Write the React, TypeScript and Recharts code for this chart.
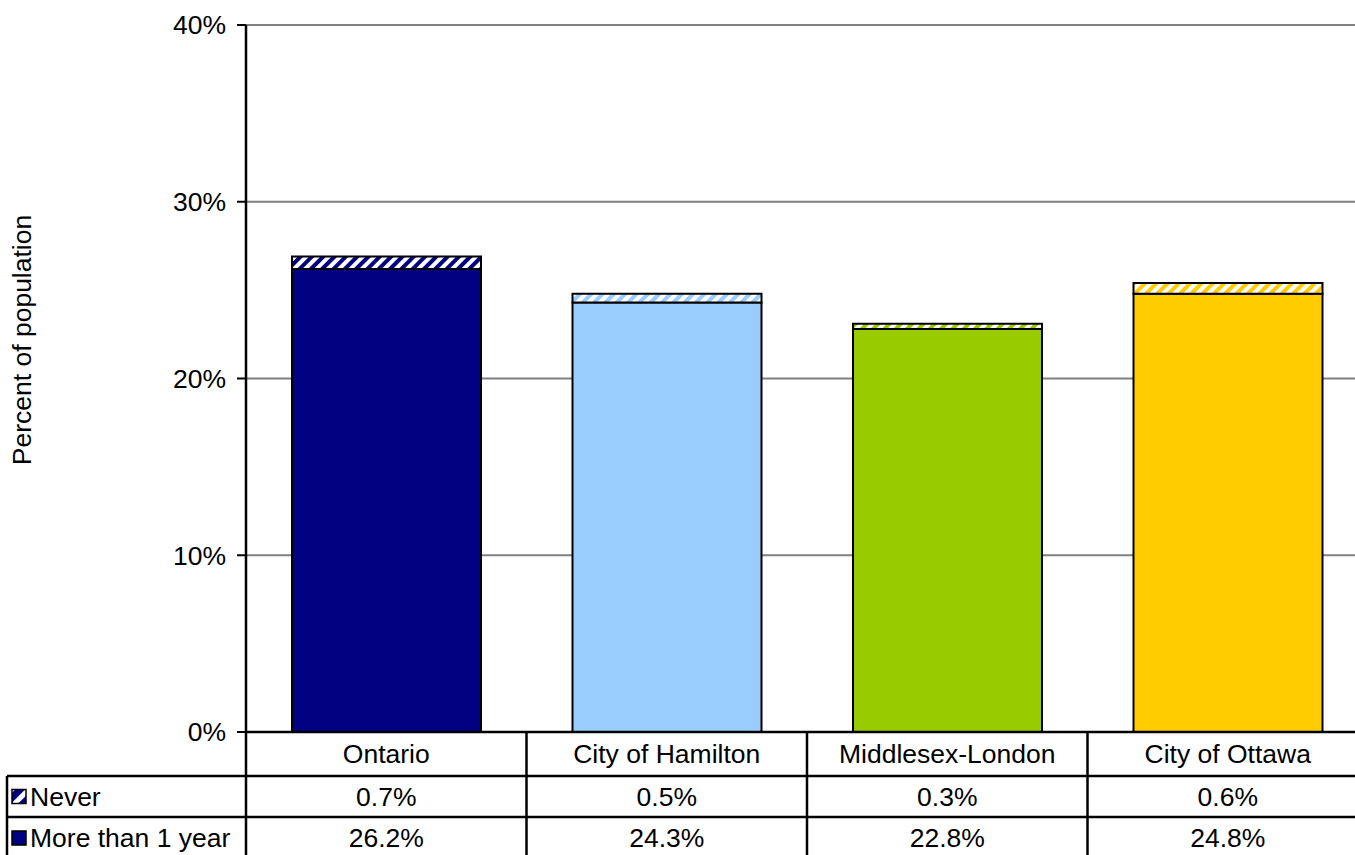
import React from 'react';
import { BarChart, Bar, XAxis, YAxis, CartesianGrid, Cell } from 'recharts';

const categories = ['Ontario', 'City of Hamilton', 'Middlesex-London', 'City of Ottawa'];
const moreThanOneYear = [26.2, 24.3, 22.8, 24.8];
const never = [0.7, 0.5, 0.3, 0.6];
const barColors = ['#000080', '#99CCFF', '#99CC00', '#FFCC00'];
const yTicks = [0, 10, 20, 30, 40];
const seriesNames = ['Never', 'More than 1 year'];

const data = categories.map((c, i) => ({ name: c, more: moreThanOneYear[i], never: never[i], idx: i }));

const FONT = '"Liberation Sans", Arial, sans-serif';
const FS = 26.5;
const CHART_W = 1368;
const CHART_H = 880;
const PLOT_LEFT = 246;
const PLOT_TOP = 25;
const PLOT_BOTTOM = 732;
const PLOT_W = CHART_W - PLOT_LEFT;
const BAND = PLOT_W / categories.length;
const ROW1 = PLOT_BOTTOM + 44;
const ROW2 = ROW1 + 41;
const TABLE_LEFT = 7;
const LINE_W = 2.5;

const fmt = (v: number) => v.toFixed(1) + '%';

const TableTick = (props: any) => {
  const { x, payload, index } = props;
  const i = payload.index ?? index;
  const left = x - BAND / 2;
  const right = x + BAND / 2;
  return (
    <g>
      <line x1={left} y1={PLOT_BOTTOM} x2={left} y2={CHART_H} stroke="#000" strokeWidth={LINE_W} />
      {i === categories.length - 1 && (
        <line x1={right} y1={PLOT_BOTTOM} x2={right} y2={CHART_H} stroke="#000" strokeWidth={LINE_W} />
      )}
      <line x1={left} y1={ROW1} x2={right} y2={ROW1} stroke="#000" strokeWidth={LINE_W} />
      <line x1={left} y1={ROW2} x2={right} y2={ROW2} stroke="#000" strokeWidth={LINE_W} />
      <text x={x} y={(PLOT_BOTTOM + ROW1) / 2} textAnchor="middle" dominantBaseline="central" fontFamily={FONT} fontSize={FS} fill="#000">
        {payload.value}
      </text>
      <text x={x} y={(ROW1 + ROW2) / 2} textAnchor="middle" dominantBaseline="central" fontFamily={FONT} fontSize={FS} fill="#000">
        {fmt(never[i])}
      </text>
      <text x={x} y={ROW2 + 21} textAnchor="middle" dominantBaseline="central" fontFamily={FONT} fontSize={FS} fill="#000">
        {fmt(moreThanOneYear[i])}
      </text>
      {i === 0 && (
        <g>
          <line x1={TABLE_LEFT} y1={ROW1} x2={left} y2={ROW1} stroke="#000" strokeWidth={LINE_W} />
          <line x1={TABLE_LEFT} y1={ROW2} x2={left} y2={ROW2} stroke="#000" strokeWidth={LINE_W} />
          <line x1={TABLE_LEFT} y1={ROW1} x2={TABLE_LEFT} y2={CHART_H} stroke="#000" strokeWidth={LINE_W} />
          <rect x={TABLE_LEFT + 5} y={(ROW1 + ROW2) / 2 - 7} width={14} height={14} fill="url(#legendHatch)" stroke="#000" strokeWidth={1.5} />
          <text x={TABLE_LEFT + 23} y={(ROW1 + ROW2) / 2} dominantBaseline="central" fontFamily={FONT} fontSize={FS} fill="#000">
            {seriesNames[0]}
          </text>
          <rect x={TABLE_LEFT + 5} y={ROW2 + 21 - 7} width={14} height={14} fill={barColors[0]} stroke="#000" strokeWidth={1.5} />
          <text x={TABLE_LEFT + 23} y={ROW2 + 21} dominantBaseline="central" fontFamily={FONT} fontSize={FS} fill="#000">
            {seriesNames[1]}
          </text>
        </g>
      )}
    </g>
  );
};

const YLabel = () => (
  <text x={22} y={340} transform="rotate(-90 22 340)" textAnchor="middle" dominantBaseline="central" fontFamily={FONT} fontSize={FS} fill="#000">
    Percent of population
  </text>
);

export default function App() {
  return (
    <div style={{ position: 'absolute', left: 0, top: 0, width: 1355, height: 855, overflow: 'hidden', background: '#fff' }}>
      <BarChart
        width={CHART_W}
        height={CHART_H}
        data={data}
        margin={{ top: PLOT_TOP, right: 0, left: 0, bottom: 0 }}
        barSize={189}
      >
        <defs>
          {barColors.map((c, i) => (
            <pattern key={i} id={`hatch-${i}`} patternUnits="userSpaceOnUse" width={8} height={8} patternTransform="rotate(45)">
              <rect x={0} y={0} width={8} height={8} fill="#fff" />
              <rect x={0} y={0} width={4} height={8} fill={c} />
            </pattern>
          ))}
          <pattern id="legendHatch" patternUnits="userSpaceOnUse" width={12} height={12} patternTransform="rotate(45)">
            <rect x={0} y={0} width={12} height={12} fill={barColors[0]} />
            <rect x={0} y={0} width={5} height={12} fill="#fff" />
          </pattern>
        </defs>
        <CartesianGrid vertical={false} stroke="#808080" strokeWidth={2} />
        <XAxis
          dataKey="name"
          height={CHART_H - PLOT_BOTTOM}
          axisLine={{ stroke: '#000', strokeWidth: LINE_W }}
          tickLine={false}
          tick={<TableTick />}
          interval={0}
        />
        <YAxis
          width={PLOT_LEFT}
          domain={[0, 40]}
          ticks={yTicks}
          tickFormatter={(v: number) => v + '%'}
          axisLine={{ stroke: '#000', strokeWidth: LINE_W }}
          tickLine={{ stroke: '#000', strokeWidth: 2 }}
          tickSize={9}
          tickMargin={11}
          tick={{ fontFamily: FONT, fontSize: FS, fill: '#000' }}
          label={<YLabel />}
        />
        <Bar dataKey="more" stackId="a" stroke="#000" strokeWidth={2} isAnimationActive={false}>
          {data.map((d, i) => (
            <Cell key={i} fill={barColors[i]} />
          ))}
        </Bar>
        <Bar dataKey="never" stackId="a" stroke="#000" strokeWidth={2} isAnimationActive={false}>
          {data.map((d, i) => (
            <Cell key={i} fill={`url(#hatch-${i})`} />
          ))}
        </Bar>
      </BarChart>
    </div>
  );
}
